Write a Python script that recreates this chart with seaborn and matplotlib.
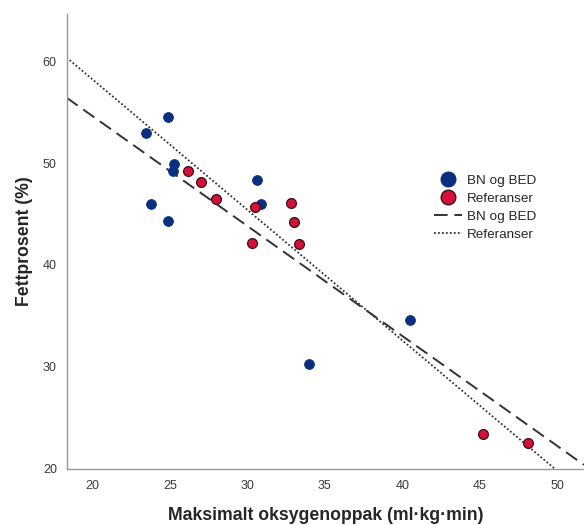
import matplotlib
matplotlib.use("Agg")
import matplotlib.pyplot as plt
import numpy as np
import pandas as pd
import seaborn as sns
from matplotlib.lines import Line2D

# data
bn_x = [24.9, 23.5, 25.3, 25.2, 30.6, 30.9, 23.8, 24.9, 34.0, 40.5]
bn_y = [54.5, 52.9, 49.9, 49.2, 48.3, 46.0, 45.95, 44.3, 30.3, 34.6]
ref_x = [26.2, 27.0, 28.0, 30.5, 32.8, 33.0, 30.3, 33.3, 45.2, 48.1]
ref_y = [49.2, 48.1, 46.5, 45.7, 46.1, 44.2, 42.2, 42.1, 23.4, 22.5]
groups = ["BN og BED", "Referanser"]
x_ticks = [20, 25, 30, 35, 40, 45, 50]
y_ticks = [20, 30, 40, 50, 60]

df = pd.DataFrame({
    "x": bn_x + ref_x,
    "y": bn_y + ref_y,
    "gruppe": [groups[0]] * len(bn_x) + [groups[1]] * len(ref_x),
})

sns.set_style("white")
plt.rcParams["font.family"] = ["Liberation Sans", "DejaVu Sans"]

blue = "#0b2f80"
red = "#d4103c"

fig = plt.figure(figsize=(5.84, 5.25), dpi=100)
ax = fig.add_axes([0.114, 0.107, 0.886, 0.866])
ax.set_xlim(18.35, 51.7)
ax.set_ylim(20, 64.6)

sub_bn = df[df.gruppe == groups[0]]
sub_ref = df[df.gruppe == groups[1]]

sns.regplot(data=sub_bn, x="x", y="y", scatter=False, ci=None, truncate=False,
            ax=ax, line_kws=dict(color="#333333", lw=1.4, dashes=(7, 3.5)))
sns.regplot(data=sub_ref, x="x", y="y", scatter=False, ci=None, truncate=False,
            ax=ax, line_kws=dict(color="#333333", lw=1.3, linestyle=(0, (1, 1.2))))

sns.scatterplot(data=sub_bn, x="x", y="y", color=blue, s=50, edgecolor=blue,
                linewidth=0.6, ax=ax, zorder=3)
sns.scatterplot(data=sub_ref, x="x", y="y", color=red, s=50, edgecolor="#3a1010",
                linewidth=0.9, ax=ax, zorder=3)

ax.set_xlim(18.35, 51.7)
ax.set_ylim(20, 64.6)
ax.set_xticks(x_ticks)
ax.set_yticks(y_ticks)
ax.tick_params(length=0, labelsize=9, colors="#3a3a3a", pad=8)
ax.tick_params(axis="y", pad=7)

for side in ["top", "right"]:
    ax.spines[side].set_visible(False)
for side in ["left", "bottom"]:
    ax.spines[side].set_color("#999999")
    ax.spines[side].set_linewidth(1.0)

ax.set_xlabel("Maksimalt oksygenoppak (ml·kg·min)", fontsize=12.7,
              fontweight="bold", labelpad=11)
ax.set_ylabel("Fettprosent (%)", fontsize=12.7, fontweight="bold", labelpad=7)

handles = [
    Line2D([], [], marker="o", ls="", ms=10.5, mfc=blue, mec=blue),
    Line2D([], [], marker="o", ls="", ms=10.5, mfc=red, mec="#3a1010"),
    Line2D([], [], color="#333333", lw=1.4, dashes=(7, 3.5)),
    Line2D([], [], color="#333333", lw=1.3, linestyle=(0, (1, 1.2))),
]
fig.legend(handles=handles, labels=groups + groups, loc="upper left",
           bbox_to_anchor=(0.743, 0.668), frameon=False, fontsize=9.7,
           borderpad=0, borderaxespad=0, handlelength=2.1,
           handletextpad=0.35, labelspacing=0.42)

fig.savefig("out.png", dpi=100)
